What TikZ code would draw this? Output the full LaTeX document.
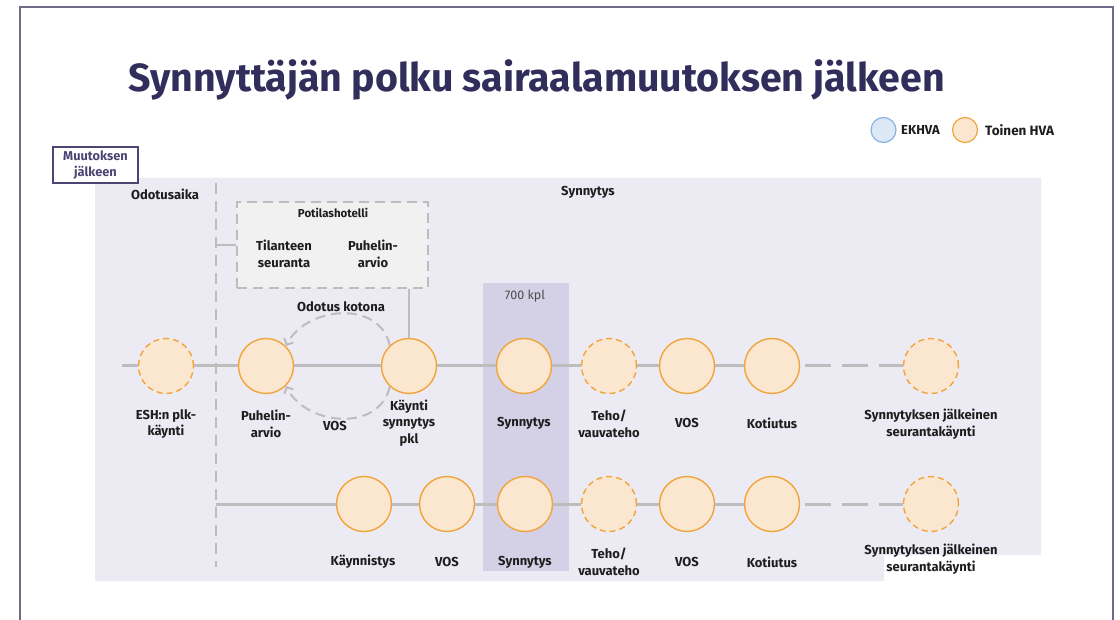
\documentclass[tikz,border=0pt]{standalone}
\usepackage{fontspec}
\setmainfont{Fira Sans}
\usetikzlibrary{arrows.meta,calc}
\definecolor{bglav}{HTML}{ECEBF4}
\definecolor{band}{HTML}{D4D1E6}
\definecolor{lgray}{HTML}{BDBDBD}
\definecolor{peach}{HTML}{FBE7CF}
\definecolor{orng}{HTML}{F2A43C}
\definecolor{bluef}{HTML}{DCE8F5}
\definecolor{blues}{HTML}{86B5E3}
\definecolor{framec}{HTML}{6E6A88}
\definecolor{titlec}{HTML}{322E5C}
\definecolor{boxc}{HTML}{4B4673}
\definecolor{hotelf}{HTML}{F1F1F1}
\definecolor{txt}{HTML}{1E1E1E}
\begin{document}
\begin{tikzpicture}[x=1pt,y=-1pt,
  lab/.style={font=\fontsize{13}{16.5}\selectfont\bfseries, text=txt, align=center, inner sep=0},
  stopc/.style={circle, draw=orng, fill=peach, line width=1.4pt, minimum size=55pt, inner sep=0},
  optc/.style={stopc, dash pattern=on 6pt off 4pt},
  rowline/.style={draw=lgray, line width=3pt},
  rowdash/.style={rowline, dash pattern=on 26pt off 11pt, dash phase=32pt},
  vdash/.style={draw=lgray, line width=2pt, dash pattern=on 11pt off 7pt},
  loopc/.style={draw=lgray, line width=2pt, dash pattern=on 10pt off 6pt, -{Straight Barb[length=5pt,width=10pt]}},
  hotel/.style={rectangle, draw=lgray, fill=hotelf, line width=2pt, dash pattern=on 10pt off 6pt, minimum width=191pt, minimum height=86pt, inner sep=0},
]
\useasboundingbox (0,0) rectangle (1120,620);
\fill[white] (0,0) rectangle (1120,620);
% frame
\draw[framec, line width=1.2pt] (20,620) -- (20,7) -- (1113,7) -- (1113,620);
% title
\node[font=\fontsize{39.3}{46}\selectfont\bfseries, text=titlec, anchor=base, inner sep=0] (title) at (536.5,92) {Synnyttäjän polku sairaalamuutoksen jälkeen};
% legend
\node[circle, draw=blues, fill=bluef, line width=1.2pt, minimum size=25pt, inner sep=0] (legb) at (883.5,130) {};
\node[font=\fontsize{13}{15}\selectfont\bfseries, text=txt, anchor=west, inner sep=0] (legbt) at (901,130) {EKHVA};
\node[circle, draw=orng, fill=peach, line width=1.2pt, minimum size=25pt, inner sep=0] (lego) at (965,130) {};
\node[font=\fontsize{13.5}{15}\selectfont\bfseries, text=txt, anchor=west, inner sep=0] (legot) at (985,130) {Toinen HVA};
% background
\fill[bglav] (95,178) -- (1041,178) -- (1041,555) -- (884,555) -- (884,581) -- (95,581) -- cycle;
\fill[band] (483,283) rectangle (569,571);
% Muutoksen jalkeen
\node[draw=boxc, line width=1.2pt, fill=white, minimum width=85pt, minimum height=36pt, inner sep=0, align=center, font=\fontsize{12.8}{16}\selectfont\bfseries, text=boxc] (muut) at (95.5,165) {Muutoksen\\jälkeen};
% headers
\node[lab] (hodo) at (165,194) {Odotusaika};
\node[lab] (hsyn) at (588,192) {Synnytys};
\node[font=\fontsize{12.5}{14}\selectfont, text=black!70, inner sep=0] (kpl) at (525,296) {700 kpl};
% vertical dashed line
\coordinate (vtop) at (216,183);
\coordinate (vbot) at (216,567);
\draw[vdash] (vtop) -- (vbot);
% potilashotelli
\node[hotel] (hotel) at (332.5,245) {};
\node[lab, font=\fontsize{11.5}{14}\selectfont\bfseries] (hotelt) at (333,213) {Potilashotelli};
\node[lab] (tilan) at (284,254) {Tilanteen\\seuranta};
\node[lab] (puharv) at (373,254) {Puhelin-\\arvio};
\draw[lgray, line width=2pt] (hotel.west -| vtop) -- (hotel.west);
% row 1 stops
\node[optc] (esh) at (166,366) {};
\node[stopc] (ph) at (266,366) {};
\node[stopc] (kay) at (409,366) {};
\node[stopc] (syn1) at (524,366) {};
\node[optc] (teho1) at (609,366) {};
\node[stopc] (vos1) at (687,366) {};
\node[stopc] (kot1) at (772,366) {};
\node[optc] (seur1) at (931,366) {};
\coordinate (r1s) at (122,366);
\draw[rowline] (r1s) -- (esh);
\draw[rowline] (esh) -- (ph);
\draw[rowline] (ph) -- (kay);
\draw[rowline] (kay) -- (syn1);
\draw[rowline] (syn1) -- (teho1);
\draw[rowline] (teho1) -- (vos1);
\draw[rowline] (vos1) -- (kot1);
\draw[rowdash] (kot1) -- (seur1);
\draw[rowline, line width=2.5pt] (hotel.south -| kay) -- (kay);
% loop
\node[lab] (odk) at (341,307) {Odotus kotona};
\draw[loopc] (kay.133) .. controls +(-10,-46) and +(20,-40) .. (ph.45);
\draw[loopc] (kay.227) .. controls +(-10,46) and +(20,40) .. (ph.-45);
% row 1 labels
\node[lab] (l-esh) at (166,424) {ESH:n plk-\\käynti};
\node[lab] (l-ph) at (266,424) {Puhelin-\\arvio};
\node[lab] (l-vosl) at (335,426) {VOS};
\node[lab] (l-kay) at (409,423) {Käynti\\synnytys\\pkl};
\node[lab] (l-syn1) at (524,423) {Synnytys};
\node[lab] (l-teho1) at (609,424) {Teho/\\vauvateho};
\node[lab] (l-vos1) at (687,423) {VOS};
\node[lab] (l-kot1) at (772,423) {Kotiutus};
\node[lab] (l-seur1) at (931,424) {Synnytyksen jälkeinen\\seurantakäynti};
% row 2 stops
\node[stopc] (kaynn) at (364,504) {};
\node[stopc] (vos2a) at (447,504) {};
\node[stopc] (syn2) at (525,504) {};
\node[optc] (teho2) at (609,504) {};
\node[stopc] (vos2) at (687,504) {};
\node[stopc] (kot2) at (772,504) {};
\node[optc] (seur2) at (931,504) {};
\coordinate (r2s) at (216,504);
\draw[rowline] (r2s) -- (kaynn);
\draw[rowline] (kaynn) -- (vos2a);
\draw[rowline] (vos2a) -- (syn2);
\draw[rowline] (syn2) -- (teho2);
\draw[rowline] (teho2) -- (vos2);
\draw[rowline] (vos2) -- (kot2);
\draw[rowdash] (kot2) -- (seur2);
% row 2 labels
\node[lab] (l-kaynn) at (363,562) {Käynnistys};
\node[lab] (l-vos2a) at (447,562) {VOS};
\node[lab] (l-syn2) at (525,562) {Synnytys};
\node[lab] (l-teho2) at (609,562) {Teho/\\vauvateho};
\node[lab] (l-vos2) at (687,562) {VOS};
\node[lab] (l-kot2) at (772,562) {Kotiutus};
\node[lab] (l-seur2) at (931,559) {Synnytyksen jälkeinen\\seurantakäynti};
\end{tikzpicture}
\end{document}
